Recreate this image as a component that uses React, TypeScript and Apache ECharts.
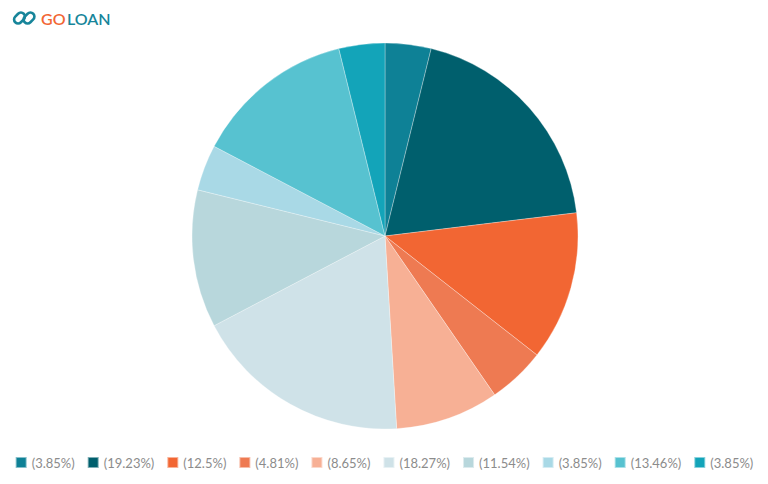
import React, { useEffect, useRef } from 'react';
import * as echarts from 'echarts';

// slice counts (out of 104) and their legend labels
const sliceKeys = ['s1', 's2', 's3', 's4', 's5', 's6', 's7', 's8', 's9', 's10'];
const sliceValues = [4, 20, 13, 5, 9, 19, 12, 4, 14, 4];
const legendLabels = ['(3.85%)', '(19.23%)', '(12.5%)', '(4.81%)', '(8.65%)', '(18.27%)', '(11.54%)', '(3.85%)', '(13.46%)', '(3.85%)'];
const sliceColors = ['#0e8196', '#005f6d', '#f26633', '#ee7a52', '#f7b095', '#cfe2e8', '#b8d7dc', '#a9d9e6', '#57c2d0', '#13a4b9'];

const linkStyle = { fill: 'none', stroke: '#17859a', lineWidth: 2.6 };

const App: React.FC = () => {
    const chartRef = useRef<HTMLDivElement>(null);

    useEffect(() => {
        document.body.style.margin = '0';
        if (!chartRef.current) return;
        const chart = echarts.init(chartRef.current, null, { renderer: 'svg' });
        const options = {
            animation: false,
            color: sliceColors,
            legend: {
                bottom: 15,
                left: 'center',
                width: 764,
                padding: 0,
                itemWidth: 11,
                itemHeight: 11,
                itemGap: 12,
                icon: 'rect',
                data: sliceKeys,
                textStyle: { color: '#8c8c8c', fontSize: 13, fontFamily: 'Lato' },
                formatter: (name: string) => legendLabels[sliceKeys.indexOf(name)]
            },
            graphic: [
                {
                    type: 'rect',
                    x: 19.5, y: 18,
                    rotation: Math.PI / 4,
                    shape: { x: -6, y: -4, width: 12, height: 8, r: 4 },
                    style: linkStyle
                },
                {
                    type: 'rect',
                    x: 29, y: 18,
                    rotation: Math.PI / 4,
                    shape: { x: -6, y: -4, width: 12, height: 8, r: 4 },
                    style: linkStyle
                },
                {
                    type: 'text',
                    x: 41, y: 18,
                    style: { text: 'GO', fill: '#f26633', font: '600 16px Lato', textVerticalAlign: 'middle' }
                },
                {
                    type: 'text',
                    x: 67, y: 18,
                    style: { text: 'LOAN', fill: '#17859a', font: '600 16px Lato', textVerticalAlign: 'middle' }
                }
            ],
            series: [
                {
                    type: 'pie',
                    center: [385, 236],
                    radius: 193,
                    startAngle: 90,
                    clockwise: true,
                    label: { show: false },
                    labelLine: { show: false },
                    itemStyle: { borderColor: 'rgba(255,255,255,0.5)', borderWidth: 0.6 },
                    emphasis: { disabled: true },
                    data: sliceKeys.map((k, i) => ({ name: k, value: sliceValues[i] }))
                }
            ]
        };
        chart.setOption(options as any);
        return () => {
            chart.dispose();
        };
    }, []);

    return <div ref={chartRef} style={{ width: 768, height: 484 }} />;
};

export default App;
